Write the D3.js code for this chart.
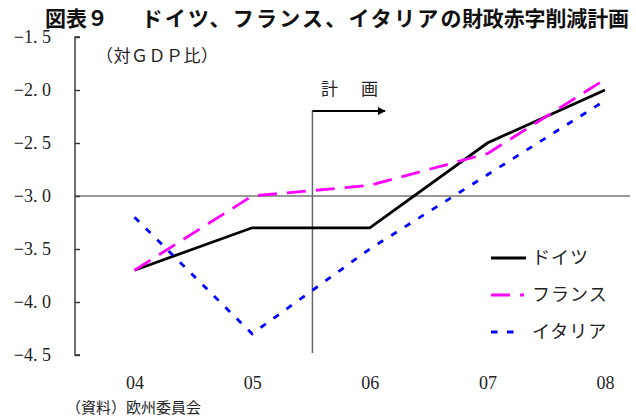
<!DOCTYPE html>
<html><head><meta charset="utf-8">
<script src="https://cdn.jsdelivr.net/npm/d3@7"></script>
<style>body{margin:0;background:#fff}svg{display:block}
.num{font-family:"Times New Roman","Liberation Serif","DejaVu Serif",serif}
.jp{font-family:"Noto Sans CJK JP","Noto Sans",sans-serif}
</style>
</head><body>
<script>
const years = ["04","05","06","07","08"];
const germany = [-3.7,-3.3,-3.3,-2.5,-2.0];
const france  = [-3.7,-3.0,-2.9,-2.6,-1.9];
const italy   = [-3.2,-4.3,-3.5,-2.8,-2.1];
const yTicks  = [-1.5,-2.0,-2.5,-3.0,-3.5,-4.0,-4.5];
const seriesNames = ["ドイツ","フランス","イタリア"];
const title = ["図表９","ドイツ、フランス、イタリアの","財政赤字削減計画"];
const unitLabel = "（対ＧＤＰ比）";
const planLabel = "計　画";
const sourceLabel = "（資料）欧州委員会";

const W=636,H=416;
const svg=d3.select("body").append("svg").attr("width",W).attr("height",H);
const x=d3.scalePoint().domain(years).range([134.5,605]);
const y=d3.scaleLinear().domain([-1.5,-4.5]).range([37,355]);

// title
const tt=[[45,null],[141.5,320],[462,167]];
title.forEach((t,i)=>{
  const e=svg.append("text").attr("class","jp").attr("x",tt[i][0]).attr("y",26)
    .attr("font-weight","bold").attr("font-size",21).attr("fill","#111").text(t);
  if(tt[i][1]) e.attr("textLength",tt[i][1]).attr("lengthAdjust","spacing");
});

// y axis
const yAxis=d3.axisRight(y).tickValues(yTicks).tickSize(5).tickFormat("");
const ga=svg.append("g").attr("transform","translate(75,0)").call(yAxis);
ga.select(".domain").attr("stroke","#333").attr("stroke-width",1.4).attr("d",`M5,${y(-1.5)}H0V${y(-4.5)}H5`);
ga.selectAll(".tick line").attr("stroke","#333").attr("stroke-width",1.4);
svg.append("g").selectAll("text").data(yTicks).join("text").attr("class","num")
  .attr("x",51).attr("y",d=>y(d)).attr("dy","0.35em").attr("text-anchor","end")
  .attr("font-size",18).attr("fill","#222")
  .text(d=>d.toFixed(1).replace("-","−").replace(".",". "));

// x labels
const xAxis=d3.axisBottom(x).tickSize(0).tickPadding(0);
const gx=svg.append("g").attr("transform","translate(0,376)").call(xAxis).attr("font-family",null);
gx.select(".domain").remove();
gx.selectAll("text").attr("class","num").attr("font-size",18).attr("fill","#222").attr("dy","0.71em");

// -3.0 reference line
svg.append("line").attr("x1",75).attr("x2",630).attr("y1",y(-3)).attr("y2",y(-3)).attr("stroke","#333").attr("stroke-width",1.2);

// plan marker
const px=(x("05")+x("06"))/2+1.5;
svg.append("line").attr("x1",px).attr("x2",px).attr("y1",111).attr("y2",353).attr("stroke","#666").attr("stroke-width",1.5);
svg.append("defs").append("marker").attr("id","ah").attr("viewBox","0 0 10 10").attr("refX",9).attr("refY",5)
  .attr("markerWidth",4).attr("markerHeight",4).attr("orient","auto").attr("markerUnits","strokeWidth")
  .append("path").attr("d","M0,0L10,5L0,10z").attr("fill","#000");
svg.append("line").attr("x1",px).attr("x2",385).attr("y1",111).attr("y2",111).attr("stroke","#000").attr("stroke-width",2).attr("marker-end","url(#ah)");
svg.append("text").attr("class","jp").attr("x",321).attr("y",89).attr("dy","0.35em").attr("font-size",17).attr("letter-spacing",3).attr("fill","#222").text(planLabel);

svg.append("text").attr("class","jp").attr("x",96).attr("y",56).attr("dy","0.35em").attr("font-size",17).attr("letter-spacing",0.5).attr("fill","#222").text(unitLabel);
svg.append("text").attr("class","jp").attr("x",66).attr("y",408).attr("dy","0.35em").attr("font-size",15).attr("fill","#222").text(sourceLabel);

// series
const series=[
  {name:seriesNames[0],vals:germany,color:"#000",dash:null},
  {name:seriesNames[1],vals:france,color:"#ff00ff",dash:"19,10"},
  {name:seriesNames[2],vals:italy,color:"#0000ff",dash:"6.5,9.5"}
];
const line=d3.line().x((d,i)=>x(years[i])).y(d=>y(d));
series.forEach(s=>{
  svg.append("path").attr("d",line(s.vals)).attr("fill","none").attr("stroke",s.color)
    .attr("stroke-width",2.8).attr("stroke-dasharray",s.dash);
});

// legend
const lg=svg.append("g");
series.forEach((s,i)=>{
  const ly=258+i*37;
  lg.append("line").attr("x1",491).attr("x2",i===1?524:(i===2?522:526)).attr("y1",ly).attr("y2",ly)
    .attr("stroke",s.color).attr("stroke-width",2.8).attr("stroke-dasharray",s.dash);
  lg.append("text").attr("class","jp").attr("x",532).attr("y",ly).attr("dy","0.35em").attr("font-size",18)
    .attr("letter-spacing",1).attr("fill","#222").text(s.name);
});
</script>
</body></html>
